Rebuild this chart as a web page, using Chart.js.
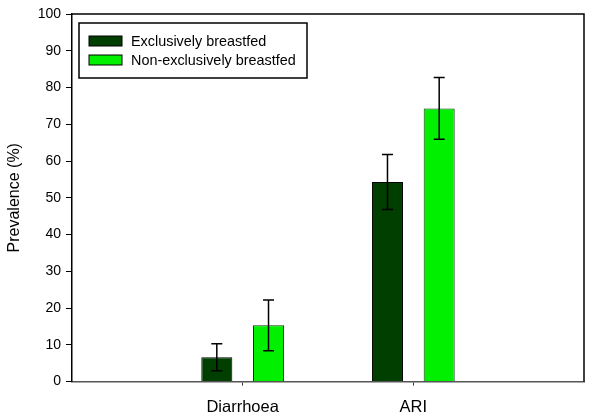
<!DOCTYPE html>
<html>
<head>
<meta charset="utf-8">
<script src="https://cdn.jsdelivr.net/npm/chart.js@4"></script>
<style>
  html, body { margin: 0; padding: 0; background: #fff; }
  #wrap { width: 600px; height: 420px; }
</style>
</head>
<body>
<div id="wrap"><canvas id="prevChart" width="600" height="420"></canvas></div>
<script>
// data
const categories = ['Diarrhoea', 'ARI'];
const exclusive = [6.6, 54.3];
const exclusiveErr = [3.7, 7.5];
const nonExclusive = [15.3, 74.3];
const nonExclusiveErr = [6.9, 8.4];
const yTicks = [0, 10, 20, 30, 40, 50, 60, 70, 80, 90, 100];

// empty slots either side so the two groups sit at 1/3 and 2/3 of the width
const labels = [''].concat(categories, ['']);
const pad = arr => [null].concat(arr, [null]);

const FONT = "Arial, 'Liberation Sans', sans-serif";

// error bars drawn on top of each bar
const errorBars = {
    id: 'errorBars',
    afterDatasetsDraw(chart) {
        const ctx = chart.ctx;
        const y = chart.scales.y;
        chart.data.datasets.forEach((ds, di) => {
            const meta = chart.getDatasetMeta(di);
            meta.data.forEach((bar, i) => {
                const v = ds.data[i];
                if (v == null) return;
                const e = ds.errors[i];
                const top = y.getPixelForValue(v + e);
                const bot = y.getPixelForValue(v - e);
                ctx.save();
                ctx.strokeStyle = '#000';
                ctx.lineWidth = 1.5;
                ctx.beginPath();
                ctx.moveTo(bar.x, top); ctx.lineTo(bar.x, bot);
                ctx.moveTo(bar.x - 5.5, top); ctx.lineTo(bar.x + 5.5, top);
                ctx.moveTo(bar.x - 5.5, bot); ctx.lineTo(bar.x + 5.5, bot);
                ctx.stroke();
                ctx.restore();
            });
        });
    }
};

// top and right frame lines
const frame = {
    id: 'frame',
    afterDraw(chart) {
        const a = chart.chartArea;
        const ctx = chart.ctx;
        ctx.save();
        ctx.strokeStyle = '#000';
        ctx.lineWidth = 1.5;
        ctx.beginPath();
        ctx.moveTo(a.left, a.top); ctx.lineTo(a.right, a.top); ctx.lineTo(a.right, a.bottom);
        ctx.stroke();
        ctx.restore();
    }
};

// boxed legend inside the plot, top left
const boxLegend = {
    id: 'boxLegend',
    afterDraw(chart) {
        const ctx = chart.ctx;
        const a = chart.chartArea;
        const x0 = a.left + 7, y0 = a.top + 9, w = 228, h = 55;
        ctx.save();
        ctx.fillStyle = '#fff';
        ctx.fillRect(x0, y0, w, h);
        ctx.strokeStyle = '#000';
        ctx.lineWidth = 1.5;
        ctx.strokeRect(x0, y0, w, h);
        ctx.font = '14.4px ' + FONT;
        ctx.textBaseline = 'middle';
        chart.data.datasets.forEach((ds, i) => {
            const cy = y0 + 18 + i * 19;
            ctx.fillStyle = ds.backgroundColor;
            ctx.fillRect(x0 + 10, cy - 5, 33, 10);
            ctx.lineWidth = 1;
            ctx.strokeRect(x0 + 10, cy - 5, 33, 10);
            ctx.fillStyle = '#000';
            ctx.fillText(ds.label, x0 + 52, cy + 1);
        });
        ctx.restore();
    }
};

const ctx = document.getElementById('prevChart').getContext('2d');
new Chart(ctx, {
    type: 'bar',
    data: {
        labels: labels,
        datasets: [{
            label: 'Exclusively breastfed',
            data: pad(exclusive),
            errors: pad(exclusiveErr),
            backgroundColor: '#003f00',
            borderColor: '#000',
            borderWidth: 1,
            barPercentage: 0.6,
            categoryPercentage: 0.606
        }, {
            label: 'Non-exclusively breastfed',
            data: pad(nonExclusive),
            errors: pad(nonExclusiveErr),
            backgroundColor: '#00f000',
            borderColor: '#0a3a0a',
            borderWidth: 1,
            barPercentage: 0.6,
            categoryPercentage: 0.606
        }]
    },
    options: {
        responsive: false,
        animation: false,
        layout: { padding: { top: 14, right: 16, left: 0, bottom: 0 } },
        plugins: {
            legend: { display: false },
            tooltip: { enabled: false }
        },
        scales: {
            x: {
                type: 'category',
                offset: false,
                border: { display: true, color: '#555', width: 1.5 },
                grid: {
                    offset: false,
                    drawOnChartArea: false,
                    tickLength: 4,
                    tickColor: c => (labels[c.index] ? '#333' : 'rgba(0,0,0,0)')
                },
                ticks: {
                    color: '#000',
                    font: { family: FONT, size: 16.5 },
                    padding: 12,
                    maxRotation: 0,
                    autoSkip: false
                },
                afterFit: s => { s.height = 38.5; }
            },
            y: {
                min: 0,
                max: 100,
                border: { display: true, color: '#000', width: 1.5 },
                grid: { drawOnChartArea: false, tickLength: 6, color: '#000' },
                afterBuildTicks: s => { s.ticks = yTicks.map(v => ({ value: v })); },
                ticks: {
                    color: '#000',
                    font: { family: FONT, size: 14 },
                    padding: 5
                },
                title: {
                    display: true,
                    text: 'Prevalence (%)',
                    color: '#000',
                    font: { family: FONT, size: 16 },
                    padding: { top: 5, bottom: 0 }
                },
                afterFit: s => { s.width = 72; }
            }
        }
    },
    plugins: [errorBars, frame, boxLegend]
});
</script>
</body>
</html>
